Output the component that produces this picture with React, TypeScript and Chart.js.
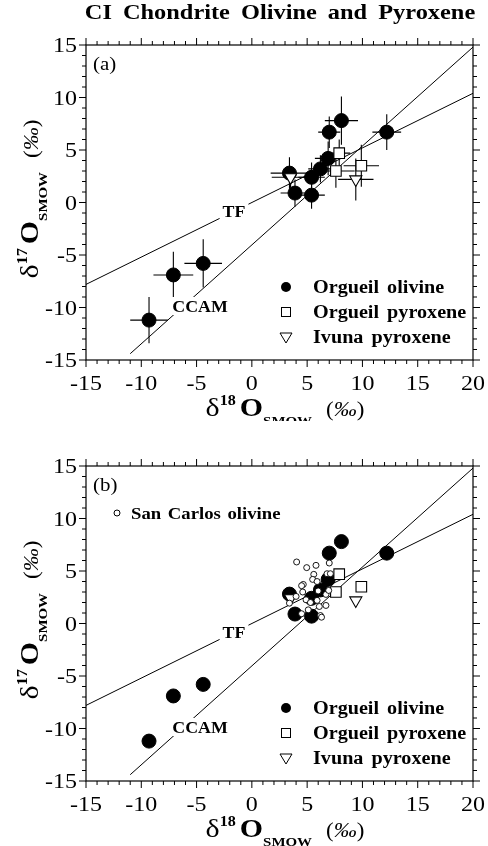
import React, { useEffect, useRef } from 'react';
import { Chart, registerables } from 'chart.js';
Chart.register(...registerables);

// ---------- data ----------
const xTickLabels = [-15, -10, -5, 0, 5, 10, 15, 20];
const yTickLabels = [-15, -10, -5, 0, 5, 10, 15];

const olivineX = [-9.3, -7.1, -4.4, 3.4, 3.9, 5.4, 5.4, 6.2, 6.9, 7.0, 8.1, 12.2];
const olivineY = [-11.2, -6.9, -5.8, 2.8, 0.9, 0.7, 2.4, 3.2, 4.2, 6.7, 7.8, 6.7];
const olivineXErr = [1.7, 1.8, 1.7, 1.7, 1.3, 1.2, 1.2, 1.1, 1.2, 1.0, 1.5, 1.3];
const olivineYErr = [2.2, 2.2, 2.3, 1.5, 1.3, 1.3, 1.4, 1.3, 1.6, 1.5, 2.3, 1.7];

const pyroxeneX = [7.9, 7.6, 9.9];
const pyroxeneY = [4.7, 3.0, 3.5];
const pyroxeneXErr = [1.0, 1.7, 1.6];
const pyroxeneYErr = [1.3, 1.6, 2.0];

const ivunaX = [3.5, 9.4];
const ivunaY = [2.4, 2.2];
const ivunaXErr = [1.7, 1.6];
const ivunaYErr = [1.0, 2.0];

const sanCarlosX = [4.05, 4.96, 5.8, 7.0, 5.6, 5.5, 5.9, 6.8, 7.1, 4.65, 4.5, 4.6, 4.9, 6.0, 5.9, 6.7, 6.95, 6.1, 6.7, 3.4, 4.5, 5.1, 6.2, 6.3, 4.0, 5.3];
const sanCarlosY = [5.86, 5.32, 5.54, 5.76, 4.68, 4.2, 4.0, 4.74, 4.74, 3.72, 3.6, 3.0, 2.26, 3.1, 2.2, 2.77, 3.15, 1.62, 1.72, 1.94, 0.93, 1.3, 0.76, 0.6, 2.58, 2.0];

const tfX = [-15, 20];
const tfY = [-7.8, 10.4];
const ccamX = [-11, 20];
const ccamY = [-14.4, 14.8];

const legendLabels = ['Orgueil olivine', 'Orgueil pyroxene', 'Ivuna pyroxene'];
const titleText = 'CI Chondrite Olivine and Pyroxene';

// ---------- layout ----------
const W = 488;
const H_A = 421;
const H_B = 425;
const TOP = 45;
const AREA_H = 315;
const LEFT = 86;
const RIGHT_PAD = 15;
const SERIF = '"Liberation Serif", "Times New Roman", Tinos, Times, serif';
const SX = 1.15;

type Seg = { t?: string; font?: string; dy?: number; gap?: number };

function segW(ctx: CanvasRenderingContext2D, s: Seg, sx: number) {
  if (s.gap) return s.gap;
  ctx.font = s.font as string;
  return ctx.measureText(s.t as string).width * sx;
}

function drawSegs(ctx: CanvasRenderingContext2D, segs: Seg[], cx: number, baseY: number, sx: number, align = 'center') {
  const total = segs.reduce((a, s) => a + segW(ctx, s, sx), 0);
  let x = align === 'center' ? cx - total / 2 : align === 'right' ? cx - total : cx;
  for (const s of segs) {
    const w = segW(ctx, s, sx);
    if (s.t) {
      ctx.save();
      ctx.font = s.font as string;
      ctx.textBaseline = 'alphabetic';
      ctx.textAlign = 'left';
      ctx.translate(x, baseY + (s.dy || 0));
      ctx.scale(sx, 1);
      ctx.fillText(s.t, 0, 0);
      ctx.restore();
    }
    x += w;
  }
  return total;
}

function wordsSegs(text: string, font: string, extra: number, ctx: CanvasRenderingContext2D, sx: number): Seg[] {
  ctx.font = font;
  const sp = ctx.measureText(' ').width * sx + extra;
  const out: Seg[] = [];
  text.split(' ').forEach((w, i) => {
    if (i > 0) out.push({ gap: sp });
    out.push({ t: w, font });
  });
  return out;
}

function makeDecor(panel: 'a' | 'b') {
  return {
    id: 'decor' + panel,
    beforeDatasetsDraw(chart: any) {
      if (panel !== 'a') return;
      const ctx: CanvasRenderingContext2D = chart.ctx;
      const xs = chart.scales.x;
      const ys = chart.scales.y;
      ctx.save();
      ctx.strokeStyle = '#000';
      ctx.lineWidth = 1.1;
      const groups = [
        [olivineX, olivineY, olivineXErr, olivineYErr],
        [pyroxeneX, pyroxeneY, pyroxeneXErr, pyroxeneYErr],
        [ivunaX, ivunaY, ivunaXErr, ivunaYErr],
      ];
      for (const [gx, gy, ex, ey] of groups) {
        for (let i = 0; i < gx.length; i++) {
          const px = xs.getPixelForValue(gx[i]);
          const py = ys.getPixelForValue(gy[i]);
          ctx.beginPath();
          ctx.moveTo(xs.getPixelForValue(gx[i] - ex[i]), py);
          ctx.lineTo(xs.getPixelForValue(gx[i] + ex[i]), py);
          ctx.moveTo(px, ys.getPixelForValue(gy[i] - ey[i]));
          ctx.lineTo(px, ys.getPixelForValue(gy[i] + ey[i]));
          ctx.stroke();
        }
      }
      ctx.restore();
    },
    afterDatasetsDraw(chart: any) {
      const ctx: CanvasRenderingContext2D = chart.ctx;
      const xs = chart.scales.x;
      const ys = chart.scales.y;
      const a = chart.chartArea;
      ctx.save();
      ctx.fillStyle = '#000';
      ctx.strokeStyle = '#000';

      const lbl = (text: string, cx: number, cy: number) => {
        const font = `bold 17px ${SERIF}`;
        ctx.font = font;
        const w = ctx.measureText(text).width * 1.05;
        ctx.fillStyle = '#fff';
        ctx.fillRect(cx - w / 2 - 3, cy - 9, w + 6, 18);
        ctx.fillStyle = '#000';
        drawSegs(ctx, [{ t: text, font }], cx, cy + 6, 1.05);
      };
      lbl('TF', 234, 211);
      lbl('CCAM', 200, 306);

      ctx.lineWidth = 1.2;
      ctx.strokeRect(a.left, a.top, a.right - a.left, a.bottom - a.top);

      ctx.lineWidth = 1;
      ctx.beginPath();
      for (let v = -15; v <= 20; v++) {
        const major = xTickLabels.includes(v);
        const len = major ? 7 : 4;
        const px = xs.getPixelForValue(v);
        ctx.moveTo(px, a.bottom);
        ctx.lineTo(px, a.bottom + len);
        ctx.moveTo(px, a.top);
        ctx.lineTo(px, a.top - len);
      }
      for (let v = -15; v <= 15; v++) {
        const major = yTickLabels.includes(v);
        const len = major ? 7 : 4;
        const py = ys.getPixelForValue(v);
        ctx.moveTo(a.left, py);
        ctx.lineTo(a.left - len, py);
        ctx.moveTo(a.right, py);
        ctx.lineTo(a.right + len, py);
      }
      ctx.stroke();

      const tf = `20px ${SERIF}`;
      for (const v of xTickLabels) {
        drawSegs(ctx, [{ t: String(v), font: tf }], xs.getPixelForValue(v), a.bottom + 30, 1.2);
      }
      for (const v of yTickLabels) {
        drawSegs(ctx, [{ t: String(v), font: tf }], a.left - 9, ys.getPixelForValue(v) + 7, 1.2, 'right');
      }

      const titleSegs = (sup: string): Seg[] => [
        { t: '\u03b4', font: `26px ${SERIF}` },
        { t: sup, font: `bold 14px ${SERIF}`, dy: -11 },
        { gap: 4 },
        { t: 'O', font: `bold 26px ${SERIF}` },
        { t: 'SMOW', font: `bold 13px ${SERIF}`, dy: 9 },
        { gap: 14 },
        { t: '(', font: `20px ${SERIF}` },
        { t: '\u2030', font: `italic 20px ${SERIF}` },
        { t: ')', font: `20px ${SERIF}` },
      ];
      drawSegs(ctx, titleSegs('18'), 285, a.bottom + 56, SX);

      ctx.save();
      ctx.translate(38, 199);
      ctx.rotate(-Math.PI / 2);
      drawSegs(ctx, titleSegs('17'), 0, 0, SX);
      ctx.restore();

      drawSegs(ctx, [{ t: panel === 'a' ? '(a)' : '(b)', font: `19px ${SERIF}` }], 93, 70, 1.1, 'left');

      if (panel === 'a') {
        const f = `bold 21px ${SERIF}`;
        drawSegs(ctx, wordsSegs(titleText, f, 5, ctx, 1.16), 280, 19, 1.16);
      }

      const lf = `bold 18px ${SERIF}`;
      const rowsY = [287, 312, 337];
      const symX = 286;
      ctx.lineWidth = 1;
      ctx.beginPath();
      ctx.arc(symX, rowsY[0], 5, 0, Math.PI * 2);
      ctx.fill();
      ctx.strokeRect(symX - 4.5, rowsY[1] - 4.5, 9, 9);
      ctx.beginPath();
      ctx.moveTo(symX - 6, rowsY[2] - 4);
      ctx.lineTo(symX + 6, rowsY[2] - 4);
      ctx.lineTo(symX, rowsY[2] + 6);
      ctx.closePath();
      ctx.stroke();
      legendLabels.forEach((t, i) => {
        drawSegs(ctx, wordsSegs(t, lf, 3, ctx, 1.12), 313, rowsY[i] + 6, 1.12, 'left');
      });

      if (panel === 'b') {
        ctx.beginPath();
        ctx.arc(117, 92, 3, 0, Math.PI * 2);
        ctx.fillStyle = '#fff';
        ctx.fill();
        ctx.stroke();
        ctx.fillStyle = '#000';
        drawSegs(ctx, wordsSegs('San Carlos olivine', `bold 17px ${SERIF}`, 2, ctx, 1.1), 131, 98, 1.1, 'left');
      }
      ctx.restore();
    },
  };
}

function pts(xs: number[], ys: number[]) {
  return xs.map((x, i) => ({ x, y: ys[i] }));
}

function buildChart(canvas: HTMLCanvasElement, panel: 'a' | 'b', height: number) {
  const datasets: any[] = [];
  if (panel === 'b') {
    datasets.push({
      label: 'San Carlos olivine',
      data: pts(sanCarlosX, sanCarlosY),
      pointStyle: 'circle',
      pointRadius: 3,
      backgroundColor: '#fff',
      borderColor: '#000',
      borderWidth: 0.9,
      order: 0,
    });
  }
  datasets.push(
    {
      label: 'Orgueil pyroxene',
      data: pts(pyroxeneX, pyroxeneY),
      pointStyle: 'rect',
      pointRadius: 7.5,
      backgroundColor: '#fff',
      borderColor: '#000',
      borderWidth: 1.1,
      order: 1,
    },
    {
      label: 'Ivuna pyroxene',
      data: pts(ivunaX, ivunaY),
      pointStyle: 'triangle',
      rotation: 180,
      pointRadius: 7,
      backgroundColor: '#fff',
      borderColor: '#000',
      borderWidth: 1.1,
      order: 1,
    },
    {
      label: 'Orgueil olivine',
      data: pts(olivineX, olivineY),
      pointStyle: 'circle',
      pointRadius: 7,
      backgroundColor: '#000',
      borderColor: '#000',
      borderWidth: 1,
      order: 2,
    },
    {
      label: 'TF',
      data: pts(tfX, tfY),
      showLine: true,
      pointRadius: 0,
      borderColor: '#000',
      borderWidth: 1,
      order: 3,
    },
    {
      label: 'CCAM',
      data: pts(ccamX, ccamY),
      showLine: true,
      pointRadius: 0,
      borderColor: '#000',
      borderWidth: 1,
      order: 3,
    }
  );
  const xH = height - TOP - AREA_H;
  return new Chart(canvas, {
    type: 'scatter',
    data: { datasets },
    options: {
      animation: false,
      responsive: false,
      devicePixelRatio: 1,
      layout: { padding: { top: TOP, right: RIGHT_PAD, left: 0, bottom: 0 } },
      plugins: { legend: { display: false }, tooltip: { enabled: false }, title: { display: false } },
      scales: {
        x: {
          type: 'linear',
          min: -15,
          max: 20,
          ticks: { display: false, stepSize: 5 },
          grid: { display: false },
          border: { display: false },
          afterFit: (s: any) => { s.height = xH; },
        },
        y: {
          type: 'linear',
          min: -15,
          max: 15,
          ticks: { display: false, stepSize: 5 },
          grid: { display: false },
          border: { display: false },
          afterFit: (s: any) => { s.width = LEFT; },
        },
      },
    } as any,
    plugins: [makeDecor(panel) as any],
  });
}

export default function App() {
  const refA = useRef<HTMLCanvasElement>(null);
  const refB = useRef<HTMLCanvasElement>(null);
  useEffect(() => {
    let a: Chart | null = null;
    let b: Chart | null = null;
    let alive = true;
    const make = () => {
      if (!alive) return;
      a = buildChart(refA.current as HTMLCanvasElement, 'a', H_A);
      b = buildChart(refB.current as HTMLCanvasElement, 'b', H_B);
    };
    const fonts = (document as any).fonts;
    if (fonts && fonts.load) {
      Promise.all([
        fonts.load(`20px "Liberation Serif"`),
        fonts.load(`bold 20px "Liberation Serif"`),
        fonts.load(`italic 20px "Liberation Serif"`),
      ]).then(make, make);
    } else {
      make();
    }
    return () => {
      alive = false;
      if (a) a.destroy();
      if (b) b.destroy();
    };
  }, []);
  return (
    <div style={{ position: 'absolute', left: 0, top: 0, width: W, height: H_A + H_B, background: '#fff', fontFamily: SERIF }}>
      <canvas ref={refA} width={W} height={H_A} style={{ position: 'absolute', left: 0, top: 0, width: W, height: H_A }} />
      <canvas ref={refB} width={W} height={H_B} style={{ position: 'absolute', left: 0, top: H_A, width: W, height: H_B }} />
    </div>
  );
}
